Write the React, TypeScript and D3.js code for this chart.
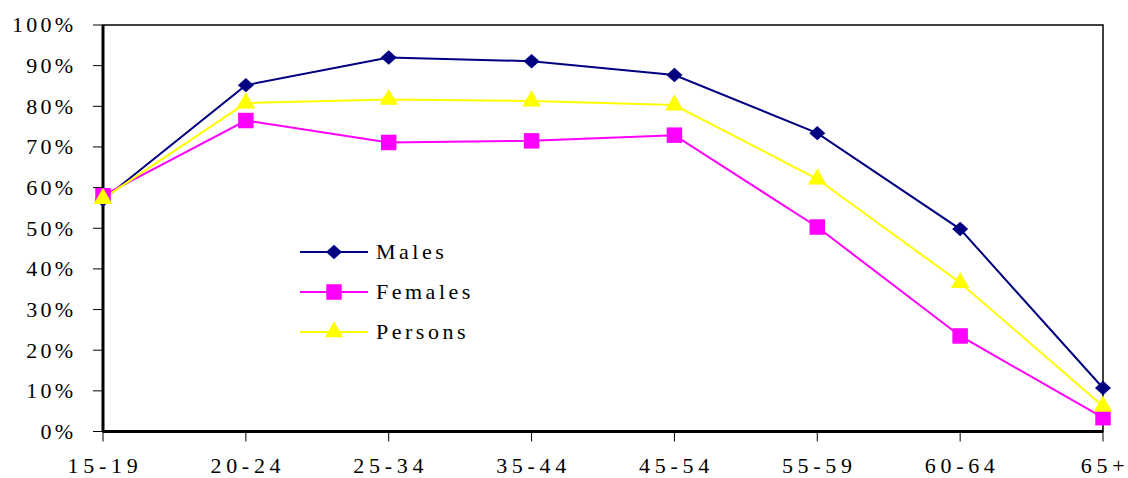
import * as d3 from "d3";

const ageGroups = ["15-19", "20-24", "25-34", "35-44", "45-54", "55-59", "60-64", "65+"];
const males = [57, 85.2, 92, 91.1, 87.7, 73.4, 49.8, 10.7];
const females = [58, 76.5, 71.1, 71.5, 72.9, 50.3, 23.5, 3.4];
const persons = [57.3, 80.8, 81.7, 81.3, 80.3, 62.1, 36.6, 6.2];
const yTicks = [0, 10, 20, 30, 40, 50, 60, 70, 80, 90, 100];

// wide diamond like the spreadsheet marker
const wideDiamond: d3.SymbolType = {
  draw(context, size) {
    const r = Math.sqrt(size / 2);
    context.moveTo(0, -r * 0.9);
    context.lineTo(r, 0);
    context.lineTo(0, r * 0.9);
    context.lineTo(-r, 0);
    context.closePath();
  },
};

type Series = { name: string; values: number[]; color: string; symbol: d3.SymbolType; size: number };

const series: Series[] = [
  { name: "Males", values: males, color: "#000080", symbol: wideDiamond, size: 128 },
  { name: "Females", values: females, color: "#FF00FF", symbol: d3.symbolSquare, size: 240 },
  { name: "Persons", values: persons, color: "#FFFF00", symbol: d3.symbolTriangle, size: 150 },
];

const FONT = "'Liberation Serif', 'Times New Roman', serif";
const width = 1128;
const height = 478;
const margin = { top: 25, right: 25, bottom: 46.5, left: 103 };
const innerW = width - margin.left - margin.right;
const innerH = height - margin.top - margin.bottom;

export default function App() {
  const x = d3.scalePoint<string>().domain(ageGroups).range([0, innerW]).padding(0);
  const y = d3.scaleLinear().domain([0, 100]).range([innerH, 0]);
  const line = d3
    .line<number>()
    .x((_, i) => x(ageGroups[i]) ?? 0)
    .y((v) => y(v));

  return (
    <svg
      width={width}
      height={height}
      style={{ position: "absolute", left: 0, top: 0, background: "#fff" }}
      role="img"
      aria-label="Participation rate by age group"
    >
      <g transform={`translate(${margin.left},${margin.top})`}>
        {/* thin frame top/right */}
        <rect x={0} y={0} width={innerW} height={innerH} fill="none" stroke="#000" strokeWidth={1.5} />
        {/* y axis */}
        <path d={`M0,${innerH}V0`} stroke="#000" strokeWidth={3} />
        {yTicks.map((t) => (
          <g key={t} transform={`translate(0,${y(t)})`}>
            <line x1={-10} x2={0} stroke="#000" strokeWidth={1} />
            <text
              x={-26.5}
              dy="0.34em"
              textAnchor="end"
              style={{ fontFamily: FONT, fontSize: 22, letterSpacing: 3.3 }}
            >
              {`${t}%`}
            </text>
          </g>
        ))}
        {/* x axis */}
        <path d={`M0,${innerH}H${innerW}`} stroke="#000" strokeWidth={3} />
        {ageGroups.map((c) => (
          <g key={c} transform={`translate(${x(c)},${innerH})`}>
            <line y1={0} y2={10} stroke="#000" strokeWidth={1} />
            <text
              y={41}
              x={2}
              textAnchor="middle"
              style={{ fontFamily: FONT, fontSize: 22, letterSpacing: 4.7 }}
            >
              {c}
            </text>
          </g>
        ))}
        {series.map((s) => (
          <path key={s.name} d={line(s.values) ?? ""} fill="none" stroke={s.color} strokeWidth={2} />
        ))}
        {series.map((s) => (
          <g key={s.name + "-pts"}>
            {s.values.map((v, i) => (
              <path
                key={i}
                transform={`translate(${x(ageGroups[i])},${y(v)})`}
                d={d3.symbol().type(s.symbol).size(s.size)() ?? ""}
                fill={s.color}
              />
            ))}
          </g>
        ))}
      </g>
      {/* legend */}
      <g transform="translate(300,252)">
        {series.map((s, i) => (
          <g key={s.name} transform={`translate(0,${i * 40})`}>
            <line x1={0} x2={68} stroke={s.color} strokeWidth={2} />
            <path transform="translate(34,0)" d={d3.symbol().type(s.symbol).size(s.size)() ?? ""} fill={s.color} />
            <text x={76} dy="0.34em" style={{ fontFamily: FONT, fontSize: 22, letterSpacing: 3.5 }}>
              {s.name}
            </text>
          </g>
        ))}
      </g>
    </svg>
  );
}
